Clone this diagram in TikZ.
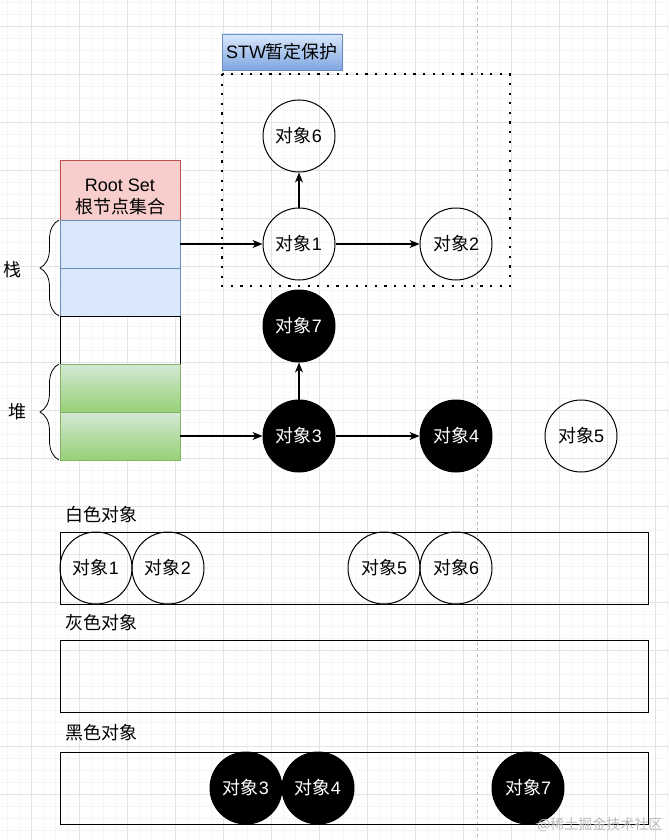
\documentclass[tikz,border=0pt]{standalone}
\usepackage{fontspec}
\setmainfont{Liberation Sans}
\newfontfamily\cjk{Noto Sans CJK SC}
\usetikzlibrary{arrows.meta,decorations.pathreplacing}
\definecolor{rootfill}{HTML}{F8CECC}
\definecolor{rootline}{HTML}{B85450}
\definecolor{stackfill}{HTML}{DAE8FC}
\definecolor{stackline}{HTML}{6C8EBF}
\definecolor{stwbottom}{HTML}{7EA6E0}
\definecolor{heaptop}{HTML}{D5E8D4}
\definecolor{heapbottom}{HTML}{97D077}
\definecolor{heapline}{HTML}{82B366}
\newcommand\fs{\fontsize{18}{22}\selectfont}
\newcommand\dx[1]{{\cjk 对象}#1}
\begin{document}
\begin{tikzpicture}[x=1pt, y=-1pt,
          obj/.style={circle, draw, line width=1pt, minimum size=72pt, inner sep=0pt, font=\fs},
          black obj/.style={obj, fill=black, text=white},
          cell/.style={draw, line width=0.8pt, minimum width=120pt, minimum height=48pt, inner sep=0pt},
          stack cell/.style={cell, fill=stackfill, draw=stackline},
          heap cell/.style={cell, top color=heaptop, bottom color=heapbottom, draw=heapline},
          color box/.style={draw, line width=1pt, minimum width=588pt, minimum height=72pt, inner sep=0pt},
          box label/.style={anchor=west, font=\cjk\fs},
          ref/.style={line width=1.1pt, -{Stealth[length=10pt, width=8pt, inset=3pt]}}]
          \useasboundingbox (0,0) rectangle (669,840);
          \fill[white] (0,0) rectangle (669,840);
          % background grid
          \foreach \x in {7,19,...,667}{
              \draw[gray!8, line width=0.5pt] (\x,0) -- (\x,840);
          }
          \foreach \y in {2,14,...,838}{
              \draw[gray!8, line width=0.5pt] (0,\y) -- (669,\y);
          }
          \foreach \x in {31,79,...,667}{
              \draw[gray!22, line width=0.8pt] (\x,0) -- (\x,840);
          }
          \foreach \y in {26,74,...,838}{
              \draw[gray!22, line width=0.8pt] (0,\y) -- (669,\y);
          }
          \draw[gray!50, line width=0.6pt, dash pattern=on 3pt off 3pt] (477.5,0) -- (477.5,840);
          % root set column
          \node[cell, fill=rootfill, draw=rootline, minimum height=60pt] (rs) at (120,190) {};
          \node[align=center, font=\fs, inner sep=0pt] (rst) at (120,197) {Root Set\\[0pt]{\cjk 根节点集合}};
          \node[stack cell] (st1) at (120,244) {};
          \node[stack cell] (st2) at (120,292) {};
          \node[cell] (em) at (120,340) {};
          \node[heap cell] (hp1) at (120,388) {};
          \node[heap cell] (hp2) at (120,436) {};
          \draw[line width=0.8pt, decorate, decoration={brace, amplitude=19pt}] (59,316) -- (59,220);
          \draw[line width=0.8pt, decorate, decoration={brace, amplitude=19pt}] (59,460) -- (59,364);
          \node[font=\cjk\fs] (stk) at (12,270) {栈};
          \node[font=\cjk\fs] (hep) at (18,412) {堆};
          % STW area
          \node[draw=stackline, line width=0.8pt, top color=stackfill, bottom color=stwbottom, minimum width=120pt, minimum height=36pt, inner sep=0pt, font=\fs] (stw) at (282,52) {STW{\cjk 暂定保护}};
          \draw[line width=2.2pt, dash pattern=on 2.2pt off 7.4pt] (222,74) rectangle (510,286);
          % objects
          \node[obj] (o6) at (299,136) {\dx{6}};
          \node[obj] (o1) at (299,244) {\dx{1}};
          \node[obj] (o2) at (456,244) {\dx{2}};
          \node[black obj] (o7) at (299,326) {\dx{7}};
          \node[black obj] (o3) at (299,436) {\dx{3}};
          \node[black obj] (o4) at (456,436) {\dx{4}};
          \node[obj] (o5) at (581,436) {\dx{5}};
          \draw[ref] (st1.east) -- (o1);
          \draw[ref] (hp2.east) -- (o3);
          \draw[ref] (o1) -- (o6);
          \draw[ref] (o1) -- (o2);
          \draw[ref] (o3) -- (o7);
          \draw[ref] (o3) -- (o4);
          % colour sets
          \node[box label] (wl) at (62,515) {白色对象};
          \node[color box] (wb) at (354,568) {};
          \node[box label] (gl) at (62,623) {灰色对象};
          \node[color box] (gb) at (354,676) {};
          \node[box label] (bl) at (62,733) {黑色对象};
          \node[color box] (bb) at (354,788) {};
          \foreach \i/\x in {1/96,2/168,5/384,6/456}{
              \node[obj] (w\i) at (\x,568) {\dx{\i}};
          }
          \foreach \i/\x in {3/246,4/318,7/528}{
              \node[black obj] (b\i) at (\x,788) {\dx{\i}};
          }
          \node[anchor=east, text=gray!55, font=\cjk\fontsize{14}{16}\selectfont] (wm) at (666,825) {@稀土掘金技术社区};
\end{tikzpicture}
\end{document}
